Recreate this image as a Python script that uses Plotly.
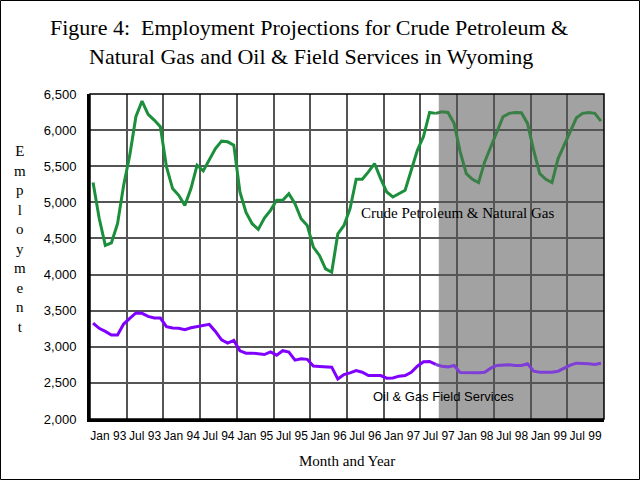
import plotly.graph_objects as go

# Monthly data, Jan 1993 .. Dec 1999 (index 0..83)
months = list(range(84))
crude_petroleum = [
    5273, 4780, 4403, 4440, 4704, 5236, 5653, 6185, 6403, 6218, 6139, 6046,
    5490, 5190, 5097, 4958, 5190, 5514, 5435, 5583, 5745, 5847, 5838, 5792,
    5143, 4860, 4704, 4625, 4782, 4889, 5028, 5028, 5120, 4981, 4773, 4680,
    4380, 4264, 4079, 4032, 4565, 4680, 4912, 5319, 5319, 5421, 5537, 5329,
    5143, 5074, 5120, 5167, 5444, 5722, 5910, 6245, 6232, 6255, 6245, 6093,
    5699, 5398, 5319, 5273, 5560, 5768, 5977, 6185, 6232, 6245, 6241, 6093,
    5722, 5398, 5319, 5273, 5606, 5792, 5977, 6171, 6232, 6245, 6232, 6125,
]
oil_gas_services = [
    3329, 3255, 3213, 3162, 3162, 3315, 3394, 3468, 3463, 3421, 3398, 3398,
    3278, 3259, 3255, 3236, 3264, 3282, 3292, 3310, 3213, 3097, 3051, 3088,
    2944, 2912, 2912, 2898, 2893, 2930, 2884, 2946, 2928, 2815, 2835, 2826,
    2733, 2727, 2727, 2718, 2555, 2616, 2639, 2671, 2648, 2602, 2602, 2602,
    2565, 2569, 2593, 2602, 2648, 2731, 2792, 2796, 2755, 2731, 2722, 2741,
    2642, 2639, 2639, 2639, 2648, 2704, 2741, 2750, 2750, 2741, 2741, 2764,
    2662, 2648, 2648, 2648, 2662, 2708, 2745, 2773, 2773, 2764, 2755, 2773,
]
tick_labels = ["Jan 93", "Jul 93", "Jan 94", "Jul 94", "Jan 95", "Jul 95", "Jan 96",
               "Jul 96", "Jan 97", "Jul 97", "Jan 98", "Jul 98", "Jan 99", "Jul 99"]
projection_start = 57   # Oct 97
split_index = 56

x_vals = [m + 0.5 for m in months]

# layout geometry (pixels)
W, H = 640, 480
ML, MR, MT, MB = 90, 36, 94, 61
PW, PH = W - ML - MR, H - MT - MB


def px(x):
    return (x - ML) / PW


def py(y):
    return (H - MB - y) / PH


SERIF = "Liberation Serif, Times New Roman, serif"
SANS = "Liberation Sans, Arial, sans-serif"

fig = go.Figure()
fig.add_trace(go.Scatter(x=x_vals[:split_index + 1], y=crude_petroleum[:split_index + 1],
                         mode="lines", line=dict(color="#1b8f3b", width=3), showlegend=False))
fig.add_trace(go.Scatter(x=x_vals[split_index:], y=crude_petroleum[split_index:],
                         mode="lines", line=dict(color="#3a7f45", width=3), showlegend=False))
fig.add_trace(go.Scatter(x=x_vals[:split_index + 1], y=oil_gas_services[:split_index + 1],
                         mode="lines", line=dict(color="#8000ff", width=3), showlegend=False))
fig.add_trace(go.Scatter(x=x_vals[split_index:], y=oil_gas_services[split_index:],
                         mode="lines", line=dict(color="#7f3fd6", width=3), showlegend=False))

# projection shading
fig.add_shape(type="rect", xref="x", yref="paper", x0=projection_start, x1=len(months),
              y0=0, y1=1, fillcolor="#a2a2a2", line=dict(width=0), layer="below")
# plot frame
fig.add_shape(type="rect", xref="paper", yref="paper", x0=0, x1=1, y0=0, y1=1,
              line=dict(color="black", width=1.5), layer="above")
# outer image border
fig.add_shape(type="rect", xref="paper", yref="paper",
              x0=px(0.5), x1=px(W - 0.5), y0=py(H - 0.5), y1=py(0.5),
              line=dict(color="black", width=1), layer="above")

tick_pos = [6 * k + 3 for k in range(len(tick_labels))]
grid_pos = [6 * k for k in range(1, len(tick_labels))]

fig.update_xaxes(range=[0, len(months)], tickmode="array", tickvals=tick_pos,
                 ticktext=tick_labels, showgrid=False, ticks="", zeroline=False,
                 showline=True, linecolor="black", linewidth=3, tickangle=0,
                 automargin=False,
                 tickfont=dict(family=SANS, size=12, color="black"),
                 ticklabelstandoff=4,
                 minor=dict(tickmode="array", tickvals=grid_pos, showgrid=True,
                            gridcolor="#555555", gridwidth=1.5, ticks=""))
fig.update_yaxes(range=[2000, 6500], dtick=500, tick0=2000, tickformat=",",
                 showgrid=True, gridcolor="#555555", gridwidth=1.5, ticks="",
                 zeroline=False, showline=True, linecolor="black", linewidth=3,
                 automargin=False,
                 tickfont=dict(family=SANS, size=13, color="black"),
                 ticklabelstandoff=8)

annotations = [
    dict(text="Figure 4:  Employment Projections for Crude Petroleum &amp;",
         x=px(309), y=py(28), font=dict(family=SERIF, size=22, color="black")),
    dict(text="Natural Gas and Oil &amp; Field Services in Wyoming",
         x=px(311), y=py(57), font=dict(family=SERIF, size=22, color="black")),
    dict(text="<br>".join("Employment"), x=px(20), y=py(239),
         font=dict(family=SERIF, size=15, color="black")),
    dict(text="Month and Year", x=px(347), y=py(461),
         font=dict(family=SERIF, size=15, color="black")),
    dict(text="Crude Petroleum &amp; Natural Gas", x=px(359), y=py(213), xanchor="left",
         font=dict(family=SERIF, size=15, color="black")),
    dict(text="Oil &amp; Gas Field Services", x=px(371), y=py(396), xanchor="left",
         font=dict(family=SANS, size=13, color="black")),
]
for a in annotations:
    a.setdefault("xanchor", "center")
    fig.add_annotation(xref="paper", yref="paper", yanchor="middle", showarrow=False, **a)

fig.update_layout(width=W, height=H, margin=dict(l=ML, r=MR, t=MT, b=MB, autoexpand=False),
                  paper_bgcolor="white", plot_bgcolor="white", showlegend=False)

fig.write_html("out.html", config={"displayModeBar": False},
               post_script="document.body.style.margin='0';document.body.style.overflow='hidden';")
